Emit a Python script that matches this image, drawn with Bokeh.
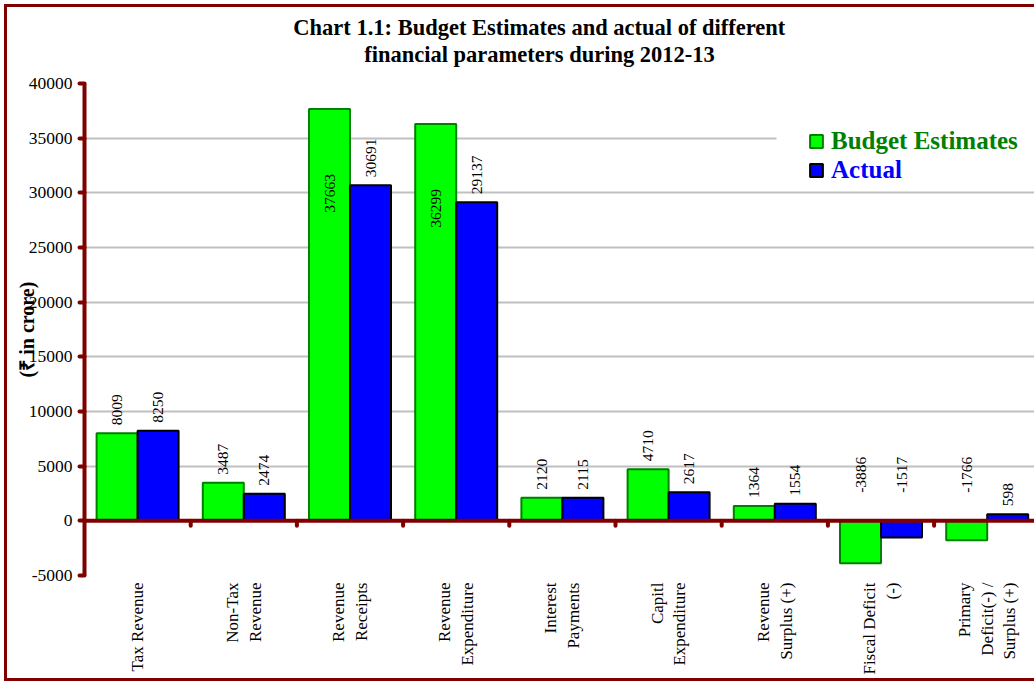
import math

from bokeh.plotting import figure
from bokeh.models import (Range1d, FixedTicker, Span, Legend, LegendItem,
                          BoxAnnotation, ColumnDataSource, LinearAxis, Title)
from bokeh.core.properties import value
from bokeh.embed import file_html
from bokeh.resources import INLINE

# ---- data -------------------------------------------------------------
categories = [
    "Tax Revenue",
    "Non-Tax\nRevenue",
    "Revenue\nReceipts",
    "Revenue\nExpenditure",
    "Interest\nPayments",
    "Capitl\nExpenditure",
    "Revenue\nSurplus (+)",
    "Fiscal Deficit\n(-)",
    "Primary\nDeficit(-) /\nSurplus (+)",
]
budget_estimates = [8009, 3487, 37663, 36299, 2120, 4710, 1364, -3886, -1766]
actual = [8250, 2474, 30691, 29137, 2115, 2617, 1554, -1517, 598]
series_names = ["Budget Estimates", "Actual"]
y_ticks = list(range(-5000, 40001, 5000))
title_lines = ["Chart 1.1: Budget Estimates and actual of different",
               "financial parameters during 2012-13"]
y_title = "(₹ in crore)"

# ---- layout / style -----------------------------------------------------
W, H = 1034, 681
FRAME_L, FRAME_T, FRAME_B = 84, 83, 575
CAT_PX = 106.2
Y_MIN, Y_MAX = -5000, 40000
DARK_RED = "#800000"
SERIF = "Liberation Serif"
TITLE_SIZE = 22.5
TITLE_CENTER = 539

x_start = -0.5
x_end = x_start + (W - FRAME_L) / CAT_PX
upp = (Y_MAX - Y_MIN) / (FRAME_B - FRAME_T)  # data units per pixel


def px_x(px):
    return x_start + (px - FRAME_L) / CAT_PX


def px_y(py):
    return Y_MAX - (py - FRAME_T) * upp


def dy(px):
    return px * upp


# bold Times-metric advance widths (1/1000 em), used to centre the title lines
BOLD_W = {" ": 250, "-": 333, ".": 250, ":": 333, "B": 667, "C": 722,
          "E": 667, "a": 500, "c": 444, "d": 556, "e": 444, "f": 333,
          "g": 500, "h": 556, "i": 278, "l": 278, "m": 833, "n": 556,
          "o": 500, "p": 556, "r": 444, "s": 389, "t": 333, "u": 556}


def bold_len(s, size):
    return sum(BOLD_W.get(c, 500) for c in s) * size / 1000.0


p = figure(width=W, height=H, output_backend="svg", toolbar_location=None,
           x_range=Range1d(x_start, x_end), y_range=Range1d(Y_MIN, Y_MAX),
           x_axis_location=None,
           min_border_left=FRAME_L, min_border_right=0,
           min_border_top=FRAME_T, min_border_bottom=H - FRAME_B)
p.outline_line_color = None
p.background_fill_color = "white"
p.border_fill_alpha = 0
# dark red page frame (left, top and bottom edges), painted behind the canvas
p.styles = {"box-shadow": ("inset 4px 4px 0 0 white, "
                           "inset 7px 7px 0 0 #800000, "
                           "inset 0 -3px 0 0 #800000")}

# ---- title (two centred lines) ------------------------------------------
for text, v_align, standoff in ((title_lines[1], "top", 30),
                                (title_lines[0], "bottom", -26)):
    left = TITLE_CENTER - bold_len(text, TITLE_SIZE) / 2
    p.add_layout(Title(text=text, align="left", offset=left - FRAME_L,
                       vertical_align=v_align,
                       text_font=SERIF, text_font_style="bold",
                       text_font_size=f"{TITLE_SIZE}px", text_color="black",
                       standoff=standoff), "above")

# ---- grid and value axis ------------------------------------------------
p.xgrid.visible = False
p.ygrid.ticker = FixedTicker(ticks=y_ticks)
p.ygrid.grid_line_color = "#C0C0C0"
p.ygrid.grid_line_width = 2

yax = p.yaxis[0]
yax.ticker = FixedTicker(ticks=y_ticks)
yax.major_label_overrides = {t: str(t) for t in y_ticks}
yax.axis_line_color = DARK_RED
yax.axis_line_width = 4
yax.major_tick_line_color = DARK_RED
yax.major_tick_line_width = 4
yax.major_tick_line_cap = "round"
yax.major_tick_out = 5
yax.major_tick_in = 0
yax.minor_tick_line_color = None
yax.major_label_standoff = 7
yax.major_label_text_font = SERIF
yax.major_label_text_font_size = "17.5px"
yax.major_label_text_color = "black"
yax.axis_label = y_title
yax.axis_label_text_font = SERIF
yax.axis_label_text_font_style = "bold"
yax.axis_label_text_font_size = "20px"
yax.axis_label_text_color = "black"
yax.axis_label_standoff = -12

# ---- category labels under the plot --------------------------------------
idx = list(range(len(categories)))
xax = LinearAxis(ticker=FixedTicker(ticks=idx),
                 major_label_overrides={i: c for i, c in enumerate(categories)},
                 major_label_orientation=math.pi / 2,
                 major_label_standoff=7,
                 major_label_text_font=SERIF,
                 major_label_text_font_size="17px",
                 major_label_text_color="black",
                 major_tick_out=0, major_tick_in=0,
                 axis_line_color=None, major_tick_line_color=None,
                 minor_tick_line_color=None)
p.add_layout(xax, "below")

# ---- bars -------------------------------------------------------------
BAR_W = 41 / CAT_PX
src = ColumnDataSource(dict(
    x_be=[i - BAR_W / 2 for i in idx],
    x_ac=[i + BAR_W / 2 for i in idx],
    be=budget_estimates,
    ac=actual,
))
r_be = p.vbar(x="x_be", top="be", bottom=0, width=BAR_W, source=src,
              fill_color="#00FF00", line_color="#008000", line_width=2)
r_ac = p.vbar(x="x_ac", top="ac", bottom=0, width=BAR_W, source=src,
              fill_color="#0000FF", line_color="black", line_width=2)

# ---- value labels (rotated) ---------------------------------------------
VAL_SIZE = 15.5
out_lbl = dict(x=[], y=[], text=[])
in_lbl = dict(x=[], y=[], text=[])
for off, vals in ((-BAR_W / 2, budget_estimates), (BAR_W / 2, actual)):
    for i, v in enumerate(vals):
        t = str(v)
        x = i + off
        if v < 0:
            out_lbl["x"].append(x)
            out_lbl["y"].append(dy(28))
            out_lbl["text"].append(t)
            continue
        top_px = FRAME_T + (Y_MAX - v) / upp
        if top_px - 8 - len(t) * 0.5 * VAL_SIZE < FRAME_T:
            # too tall: keep the label inside the bar
            in_lbl["x"].append(x)
            in_lbl["y"].append(v - dy(65))
            in_lbl["text"].append(t)
        else:
            out_lbl["x"].append(x)
            out_lbl["y"].append(v + dy(8))
            out_lbl["text"].append(t)

common_txt = dict(angle=math.pi / 2, text_baseline="middle",
                  text_font=value(SERIF), text_font_size=f"{VAL_SIZE}px",
                  text_color="black")
p.text(x="x", y="y", text="text", source=ColumnDataSource(out_lbl),
       text_align="left", **common_txt)
p.text(x="x", y="y", text="text", source=ColumnDataSource(in_lbl),
       text_align="right", **common_txt)

# ---- category axis line along zero ---------------------------------------
p.add_layout(Span(location=0, dimension="width", line_color=DARK_RED,
                  line_width=4))
bounds = [i + 0.5 for i in idx]
p.segment(x0=bounds, y0=[0] * len(bounds), x1=bounds,
          y1=[-dy(5)] * len(bounds), line_color=DARK_RED, line_width=4,
          line_cap="round")

# ---- legend --------------------------------------------------------------
p.add_layout(BoxAnnotation(left=px_x(776), right=x_end + 1,
                           top=px_y(95), bottom=px_y(186),
                           fill_color="white", fill_alpha=1.0,
                           line_color=None))
for name, rend, col, bottom_px in ((series_names[0], r_be, "#008000", 155),
                                   (series_names[1], r_ac, "#0000FF", 183.5)):
    p.add_layout(Legend(items=[LegendItem(label=name, renderers=[rend])],
                        location=(808 - FRAME_L, FRAME_B - bottom_px),
                        label_text_font=SERIF, label_text_font_style="bold",
                        label_text_font_size="25px", label_text_color=col,
                        glyph_width=16, glyph_height=16, label_standoff=7,
                        padding=0, margin=0, spacing=0,
                        border_line_color=None, background_fill_alpha=0))

open("out.html", "w").write(file_html(p, INLINE))
